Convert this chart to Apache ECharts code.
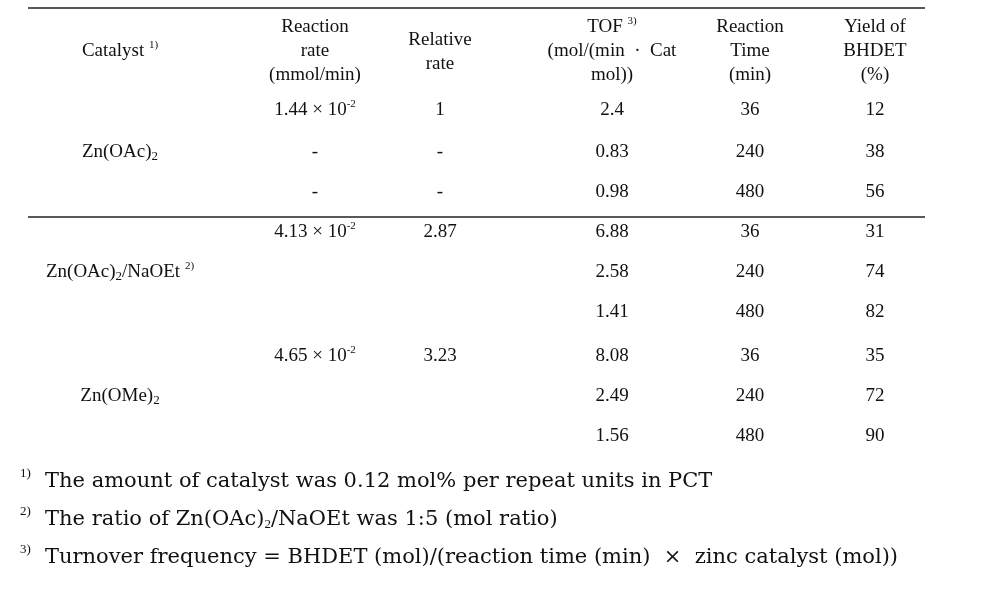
<!DOCTYPE html>
<html><head><meta charset="utf-8">
<script src="https://cdn.jsdelivr.net/npm/echarts@6/dist/echarts.min.js"></script>
<style>html,body{margin:0;background:#fff}#main{width:985px;height:589px}</style>
</head><body><div id="main"></div>
<script>
var chart = echarts.init(document.getElementById('main'));

// 表头
var headers = [
  ['Catalyst {sup|1)}'],
  ['Reaction', 'rate', '(mmol/min)'],
  ['Relative', 'rate'],
  ['TOF {sup|3)}', '(mol/(min  ·  Cat', 'mol))'],
  ['Reaction', 'Time', '(min)'],
  ['Yield of', 'BHDET', '(%)']
];
var catalysts = ['Zn(OAc){sub|2}', 'Zn(OAc){sub|2}/NaOEt {sup|2)}', 'Zn(OMe){sub|2}'];
var rates = ['1.44 × 10{sup|-2}', '4.13 × 10{sup|-2}', '4.65 × 10{sup|-2}'];
var relRates = ['1', '2.87', '3.23'];
var rateRow2 = ['-', '', ''];   // 第二行、第三行的短横
var tof = [2.4, 0.83, 0.98, 6.88, 2.58, 1.41, 8.08, 2.49, 1.56];
var times = [36, 240, 480, 36, 240, 480, 36, 240, 480];
var yields = [12, 38, 56, 31, 74, 82, 35, 72, 90];
var notes = [
  ['1)', 'The amount of catalyst was 0.12 mol% per repeat units in PCT'],
  ['2)', 'The ratio of Zn(OAc){nsub|2}/NaOEt was 1:5 (mol ratio)'],
  ['3)', 'Turnover frequency = BHDET (mol)/(reaction time (min)  ×  zinc catalyst (mol))']
];

var colX = [120, 315, 440, 612, 750, 875];
var rowY = [110, 152, 192, 232, 272, 312, 356, 396, 436];
var catY = [152, 272, 396];

var font = '"Liberation Serif", serif';
var noteFont = '"DejaVu Serif", serif';
var rich = {
  sup: {fontSize: 11, fontFamily: font, verticalAlign: 'top', lineHeight: 22},
  sub: {fontSize: 13, fontFamily: font, verticalAlign: 'bottom', lineHeight: 20},
  nsub: {fontSize: 13, fontFamily: font, verticalAlign: 'bottom', lineHeight: 22}
};

function txt(x, y, s, size, align, ff) {
  return {
    type: 'text', x: x, y: y,
    style: {
      text: s, fontFamily: ff || font, fontSize: size || 19, fill: '#111',
      align: align || 'center', verticalAlign: 'middle', lineHeight: 22, rich: rich
    }
  };
}

var els = [];
els.push({type: 'line', shape: {x1: 28, y1: 8, x2: 925, y2: 8}, style: {stroke: '#222', lineWidth: 1.5}});
els.push({type: 'line', shape: {x1: 28, y1: 217, x2: 925, y2: 217}, style: {stroke: '#222', lineWidth: 1.5}});

headers.forEach(function (h, i) {
  var y0 = h.length === 1 ? 51 : (h.length === 2 ? 40 : 27);
  h.forEach(function (line, j) {
    els.push(txt(colX[i], y0 + j * 24, line));
  });
});
catalysts.forEach(function (c, i) { els.push(txt(colX[0], catY[i], c)); });
rates.forEach(function (r, i) { els.push(txt(colX[1], rowY[i * 3], r)); });
relRates.forEach(function (r, i) { els.push(txt(colX[2], rowY[i * 3], r)); });
// Zn(OAc)2 第二、三行的 "-"
els.push(txt(colX[1], rowY[1], rateRow2[0]));
els.push(txt(colX[1], rowY[2], rateRow2[0]));
els.push(txt(colX[2], rowY[1], rateRow2[0]));
els.push(txt(colX[2], rowY[2], rateRow2[0]));
tof.forEach(function (v, i) {
  els.push(txt(colX[3], rowY[i], String(v)));
  els.push(txt(colX[4], rowY[i], String(times[i])));
  els.push(txt(colX[5], rowY[i], String(yields[i])));
});
notes.forEach(function (n, i) {
  var y = 482 + i * 38;
  els.push(txt(20, y - 8, n[0], 13, 'left'));
  els.push(txt(45, y, n[1], 21, 'left', noteFont));
});

chart.setOption({graphic: {elements: els}});
</script></body></html>
